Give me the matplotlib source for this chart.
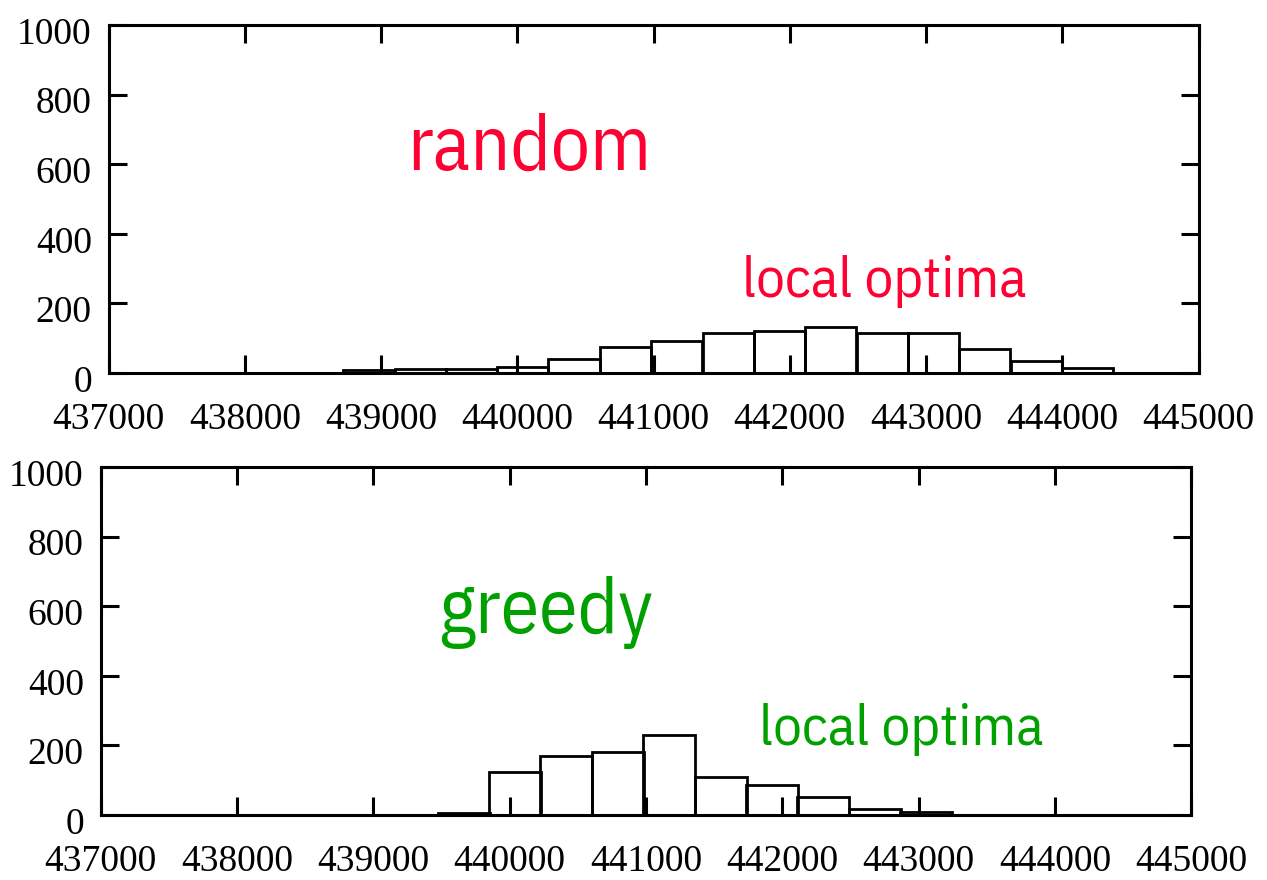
import matplotlib
matplotlib.use("Agg")
import matplotlib.pyplot as plt
from matplotlib.transforms import ScaledTranslation

# Histogram bins (bin centres) and counts of local optima objective values
bin_width = 376.7
random_centers = [438910, 439290, 439665, 440040, 440415, 440795, 441170, 441550,
                  441925, 442300, 442680, 443055, 443430, 443810, 444185]
random_counts = [8, 12, 12, 18, 40, 74, 91, 114, 120, 133, 114, 114, 68, 34, 14]

greedy_centers = [439665, 440040, 440415, 440795, 441170, 441550, 441925, 442300,
                  442680, 443055]
greedy_counts = [7, 125, 170, 182, 229, 108, 85, 53, 17, 8]

x_ticks = [437000, 438000, 439000, 440000, 441000, 442000, 443000, 444000, 445000]
y_ticks = [0, 200, 400, 600, 800, 1000]

RED = "#ff0033"
GREEN = "#00a000"
LABEL_FONT = ["IBM Plex Sans Condensed", "DejaVu Sans"]

W, H = 1267, 880
fig = plt.figure(figsize=(W / 100, H / 100), dpi=100)
# nudge y tick labels slightly below their ticks
y_shift = ScaledTranslation(0, -4 / 72, fig.dpi_scale_trans)


def panel(rect_px, centers, counts, title, title_xy, sub_xy, color):
    l, t, r, b = rect_px
    ax = fig.add_axes([l / W, 1 - b / H, (r - l) / W, (b - t) / H])
    ax.bar(centers, counts, width=bin_width, fill=False, edgecolor="black",
           linewidth=2.0, align="center")
    ax.set_xlim(x_ticks[0], x_ticks[-1])
    ax.set_ylim(y_ticks[0], y_ticks[-1])
    ax.set_xticks(x_ticks)
    ax.set_yticks(y_ticks)
    for s in ax.spines.values():
        s.set_linewidth(2.2)
    ax.tick_params(direction="in", length=13, width=2.2, top=True, right=True,
                   labelsize=27)
    ax.tick_params(axis="x", pad=21)
    ax.tick_params(axis="y", pad=12)
    for lab in ax.get_xticklabels() + ax.get_yticklabels():
        lab.set_fontfamily("Liberation Serif")
    for lab in ax.get_yticklabels():
        lab.set_transform(lab.get_transform() + y_shift)
    ax.text(title_xy[0], title_xy[1], title, color=color, fontsize=56,
            family=LABEL_FONT, ha="left", va="baseline")
    ax.text(sub_xy[0], sub_xy[1], "local optima", color=color, fontsize=41,
            family=LABEL_FONT, ha="left", va="baseline")
    return ax


panel((108.5, 25, 1198.6, 373), random_centers, random_counts, "random",
      (439190, 583), (441650, 218), RED)
panel((100.5, 467, 1191.2, 815), greedy_centers, greedy_counts, "greedy",
      (439480, 523), (441830, 201), GREEN)

fig.savefig("out.png", dpi=100)
